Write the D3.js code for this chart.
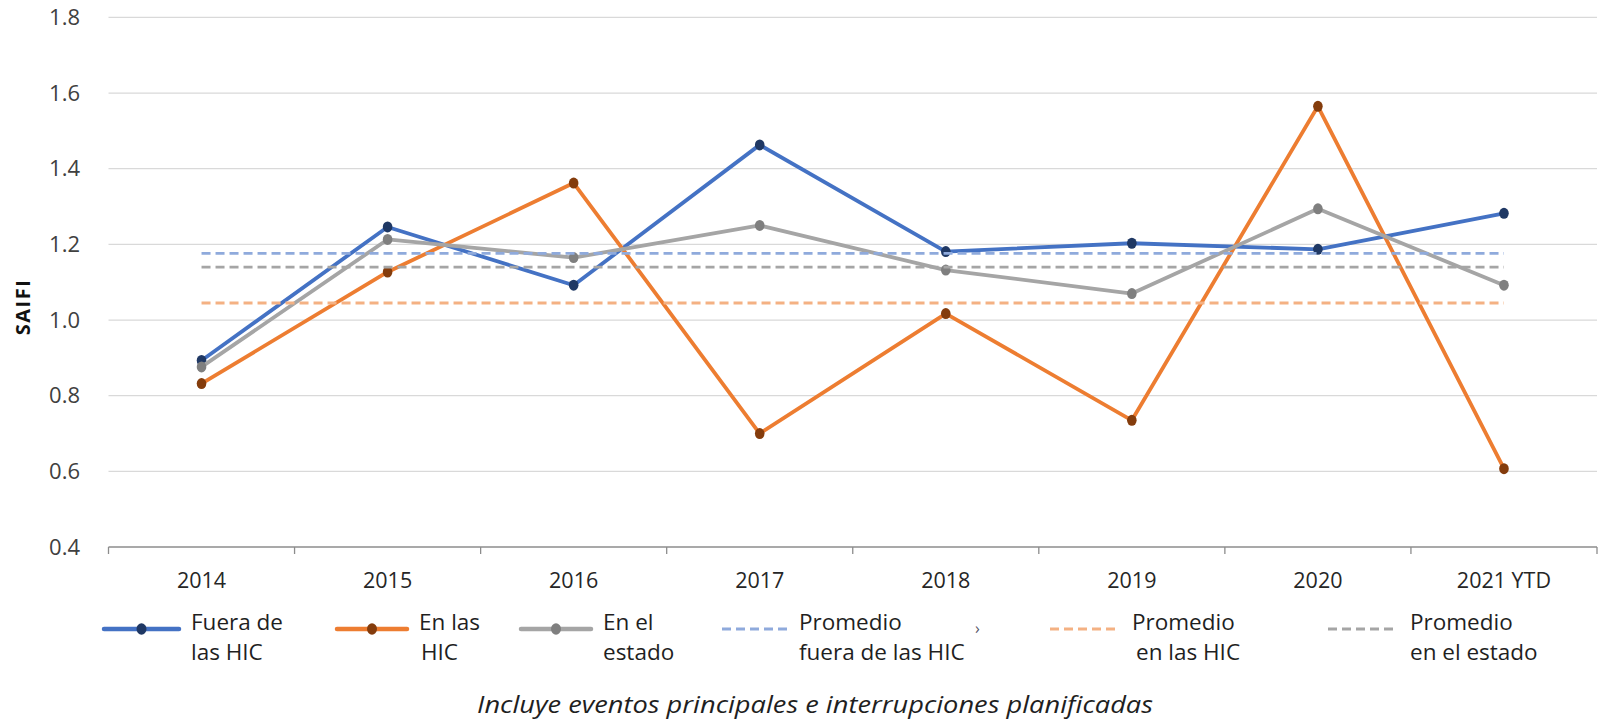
<!DOCTYPE html>
<html lang="es">
<head>
<meta charset="UTF-8">
<title>SAIFI</title>
<script src="https://cdnjs.cloudflare.com/ajax/libs/d3/7.8.5/d3.min.js"></script>
<style>
  body { margin: 0; background: #fff; }
  text { font-family: "Open Sans", Lato, sans-serif; }
</style>
</head>
<body>
<div id="chart"></div>
<script>
// data
var years = ["2014", "2015", "2016", "2017", "2018", "2019", "2020", "2021 YTD"];
var fuera  = [0.893, 1.246, 1.092, 1.463, 1.181, 1.203, 1.187, 1.282];
var enHic  = [0.832, 1.127, 1.362, 0.700, 1.017, 0.735, 1.565, 0.607];
var estado = [0.876, 1.213, 1.165, 1.250, 1.132, 1.070, 1.294, 1.092];
var promFuera = 1.176;
var promHic = 1.045;
var promEstado = 1.140;
var yTicks = [0.4, 0.6, 0.8, 1.0, 1.2, 1.4, 1.6, 1.8];

var W = 1603, H = 724;
var m = { left: 108.5, right: 6, top: 17.4, bottom: 177 };

var svg = d3.select("#chart").append("svg")
    .attr("width", W).attr("height", H);

var x = d3.scaleBand().domain(years).range([m.left, W - m.right]).padding(0);
var y = d3.scaleLinear().domain([0.4, 1.8]).range([H - m.bottom, m.top]);
var cx = function (d, i) { return x(years[i]) + x.bandwidth() / 2; };

// gridlines
svg.append("g").selectAll("line")
    .data(yTicks.slice(1))
    .enter().append("line")
    .attr("x1", m.left).attr("x2", W - m.right)
    .attr("y1", function (d) { return y(d); })
    .attr("y2", function (d) { return y(d); })
    .attr("stroke", "#d9d9d9").attr("stroke-width", 1.3);

// y axis labels
var yAxis = svg.append("g")
    .attr("transform", "translate(80,0)")
    .call(d3.axisLeft(y).tickValues(yTicks).tickFormat(d3.format(".1f")).tickSize(0).tickPadding(0));
yAxis.select(".domain").remove();
yAxis.selectAll("text")
    .attr("font-family", "'Open Sans', sans-serif")
    .attr("font-size", 22).attr("fill", "#404040");

svg.append("text")
    .attr("transform", "translate(30,307) rotate(-90)")
    .attr("text-anchor", "middle")
    .attr("font-size", 20).attr("font-weight", "bold").attr("fill", "#111")
    .attr("letter-spacing", 1.5)
    .text("SAIFI");

// x axis line with boundary ticks
var base = y(0.4);
svg.append("line")
    .attr("x1", m.left).attr("x2", W - m.right)
    .attr("y1", base).attr("y2", base)
    .attr("stroke", "#8c8c8c").attr("stroke-width", 1.3);
var bounds = years.map(function (d) { return x(d); }).concat([W - m.right]);
svg.append("g").selectAll("line")
    .data(bounds)
    .enter().append("line")
    .attr("x1", function (d) { return d; }).attr("x2", function (d) { return d; })
    .attr("y1", base).attr("y2", base + 7)
    .attr("stroke", "#8c8c8c").attr("stroke-width", 1.3);

svg.append("g").selectAll("text")
    .data(years)
    .enter().append("text")
    .attr("x", function (d) { return x(d) + x.bandwidth() / 2; })
    .attr("y", 588)
    .attr("text-anchor", "middle")
    .attr("font-size", 21.5).attr("fill", "#262626")
    .text(function (d) { return d; });

var series = [
    { vals: fuera, line: "#4472c4", dot: "#1f3864" },
    { vals: enHic, line: "#ed7d31", dot: "#843c0c" },
    { vals: estado, line: "#a5a5a5", dot: "#7f7f7f" }
];
var avgs = [
    { v: promFuera, c: "#8faadc" },
    { v: promHic, c: "#f4b183" },
    { v: promEstado, c: "#a5a5a5" }
];

var line = d3.line()
    .x(function (d, i) { return cx(d, i); })
    .y(function (d) { return y(d); });

series.forEach(function (s) {
    svg.append("path")
        .datum(s.vals)
        .attr("d", line)
        .attr("fill", "none")
        .attr("stroke", s.line)
        .attr("stroke-width", 3.8)
        .attr("stroke-linejoin", "round");
    svg.append("g").selectAll("ellipse")
        .data(s.vals)
        .enter().append("ellipse")
        .attr("cx", function (d, i) { return cx(d, i); })
        .attr("cy", function (d) { return y(d); })
        .attr("rx", 4.8).attr("ry", 5.5)
        .attr("fill", s.dot);
});

// dashed averages from first to last category
var x0 = x(years[0]) + x.bandwidth() / 2;
var x1 = x(years[years.length - 1]) + x.bandwidth() / 2;
avgs.forEach(function (a) {
    svg.append("line")
        .attr("x1", x0).attr("x2", x1)
        .attr("y1", y(a.v)).attr("y2", y(a.v))
        .attr("stroke", a.c).attr("stroke-width", 2.8)
        .attr("stroke-dasharray", "9,5");
});

// legend
var legY = 629;
var legend = [
    { x: 104, w: 75, type: "solid", s: series[0], lines: ["Fuera de", "las HIC"], off: [0, 0] },
    { x: 337, w: 70, type: "solid", s: series[1], lines: ["En las", "HIC"], off: [0, 2] },
    { x: 521, w: 70, type: "solid", s: series[2], lines: ["En el", "estado"], off: [0, 0] },
    { x: 722, w: 65, type: "dash", a: avgs[0], lines: ["Promedio", "fuera de las HIC"], off: [0, 0] },
    { x: 1050, w: 70, type: "dash", a: avgs[1], lines: ["Promedio", "en las HIC"], off: [0, 4] },
    { x: 1328, w: 70, type: "dash", a: avgs[2], lines: ["Promedio", "en el estado"], off: [0, 0] }
];
legend.forEach(function (it) {
    var g = svg.append("g");
    if (it.type === "solid") {
        g.append("line")
            .attr("x1", it.x).attr("x2", it.x + it.w)
            .attr("y1", legY).attr("y2", legY)
            .attr("stroke", it.s.line).attr("stroke-width", 4.5).attr("stroke-linecap", "round");
        g.append("ellipse")
            .attr("cx", it.x + it.w / 2).attr("cy", legY)
            .attr("rx", 5).attr("ry", 5.8).attr("fill", it.s.dot);
    } else {
        g.append("line")
            .attr("x1", it.x).attr("x2", it.x + it.w)
            .attr("y1", legY).attr("y2", legY)
            .attr("stroke", it.a.c).attr("stroke-width", 2.8)
            .attr("stroke-dasharray", "9,5");
    }
    it.lines.forEach(function (t, k) {
        g.append("text")
            .attr("x", it.x + it.w + 12 + it.off[k])
            .attr("y", 630 + k * 30)
            .attr("font-size", 22.5).attr("fill", "#1f1f1f")
            .text(t);
    });
});

// small stray mark present in the source image
svg.append("text")
    .attr("x", 975).attr("y", 634)
    .attr("font-size", 16).attr("fill", "#556")
    .text("›");

svg.append("text")
    .attr("x", 815).attr("y", 713)
    .attr("text-anchor", "middle")
    .attr("font-size", 24).attr("font-style", "italic").attr("fill", "#1f1f1f")
    .attr("textLength", 676).attr("lengthAdjust", "spacingAndGlyphs")
    .text("Incluye eventos principales e interrupciones planificadas");
</script>
</body>
</html>
